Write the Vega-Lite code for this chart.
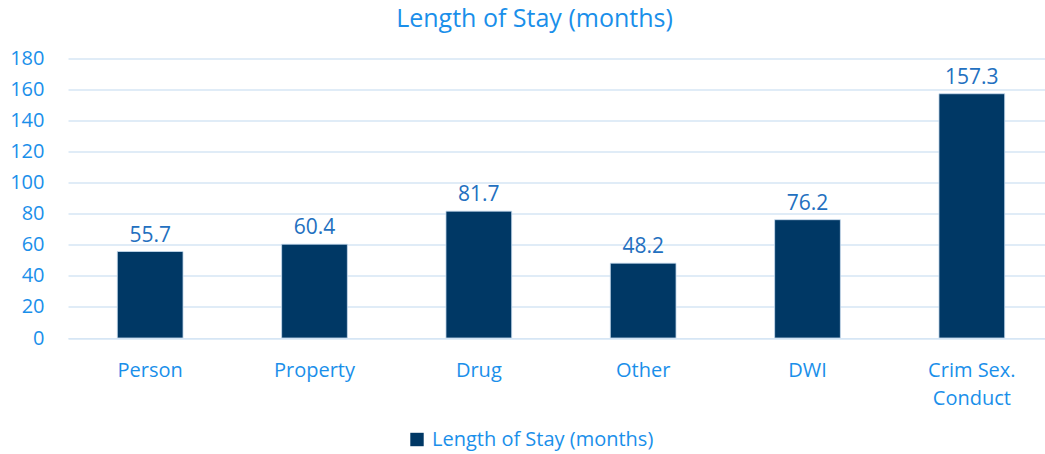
{
  "$schema": "https://vega.github.io/schema/vega-lite/v6.json",
  "width": 977,
  "height": 279.5,
  "autosize": {"type": "none"},
  "padding": {"left": 68, "top": 58.5, "right": 0, "bottom": 116},
  "background": "white",
  "title": {
    "text": "Length of Stay (months)",
    "anchor": "middle",
    "dx": -22,
    "offset": 17,
    "font": "Open Sans",
    "fontSize": 25,
    "fontWeight": "normal",
    "color": "#1A8FEA"
  },
  "config": {
    "view": {"stroke": null},
    "font": "Open Sans"
  },
  "data": {
    "values": [
      {"category": "Person", "value": 55.7, "series": "Length of Stay (months)"},
      {"category": "Property", "value": 60.4, "series": "Length of Stay (months)"},
      {"category": "Drug", "value": 81.7, "series": "Length of Stay (months)"},
      {"category": "Other", "value": 48.2, "series": "Length of Stay (months)"},
      {"category": "DWI", "value": 76.2, "series": "Length of Stay (months)"},
      {"category": "Crim Sex. Conduct", "value": 157.3, "series": "Length of Stay (months)"}
    ]
  },
  "encoding": {
    "x": {
      "field": "category",
      "type": "nominal",
      "sort": null,
      "scale": {"range": [0, 986], "paddingInner": 0.6, "paddingOuter": 0.3},
      "axis": {
        "title": null,
        "labelAngle": 0,
        "domain": true,
        "domainColor": "#D6E6F5",
        "ticks": false,
        "labelPadding": 22,
        "labelFontSize": 20,
        "labelColor": "#1A8FEA",
        "labelFont": "Open Sans",
        "labelLineHeight": 28,
        "labelBaseline": "top",
        "labelExpr": "datum.label == 'Crim Sex. Conduct' ? ['Crim Sex.', 'Conduct'] : datum.label"
      }
    },
    "y": {
      "field": "value",
      "type": "quantitative",
      "scale": {"domain": [0, 180], "nice": false},
      "axis": {
        "title": null,
        "values": [0, 20, 40, 60, 80, 100, 120, 140, 160, 180],
        "domain": false,
        "ticks": false,
        "grid": true,
        "gridColor": "#D6E6F5",
        "gridWidth": 1.5,
        "labelPadding": 24,
        "labelFontSize": 20,
        "labelColor": "#1A8FEA",
        "labelFont": "Open Sans"
      }
    }
  },
  "layer": [
    {
      "mark": {"type": "bar", "stroke": "#C9DDF0", "strokeWidth": 0.8},
      "encoding": {
        "color": {
          "field": "series",
          "type": "nominal",
          "scale": {"range": ["#003865"]},
          "legend": {
            "title": null,
            "orient": "none",
            "legendX": 339,
            "legendY": 371,
            "symbolType": "square",
            "symbolSize": 180,
            "symbolStrokeWidth": 0,
            "labelFontSize": 20,
            "labelLimit": 400,
            "labelColor": "#1A8FEA",
            "labelFont": "Open Sans",
            "labelOffset": 5
          }
        }
      }
    },
    {
      "mark": {"type": "text", "baseline": "bottom", "dy": -6, "fontSize": 21, "color": "#2370C0", "font": "Open Sans"},
      "encoding": {
        "text": {"field": "value", "type": "quantitative", "format": ".1f"}
      }
    }
  ]
}
